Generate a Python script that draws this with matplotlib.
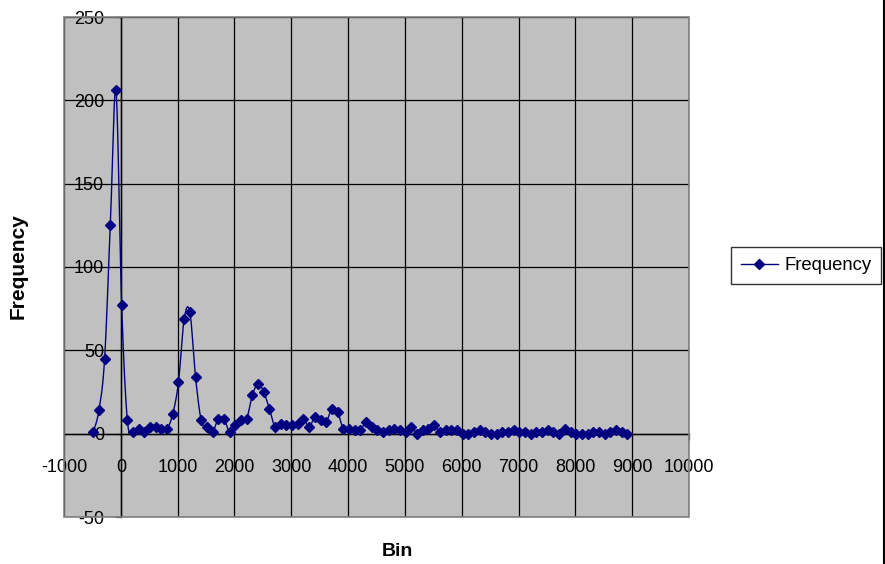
import numpy as np
import matplotlib.pyplot as plt
from matplotlib import font_manager
from matplotlib.patches import Rectangle
from matplotlib.lines import Line2D

names = {f.name for f in font_manager.fontManager.ttflist}
if 'Liberation Sans Narrow' in names:
    tick_font, tick_size = 'Liberation Sans Narrow', 15
else:
    tick_font, tick_size = 'Liberation Sans', 13

plt.rcParams['font.family'] = [tick_font, 'Liberation Sans', 'DejaVu Sans']
plt.rcParams['axes.unicode_minus'] = False

# bin positions
bins = [-485, -385, -285, -185, -85, 15, 115, 215, 315, 415,
        515, 615, 715, 815, 915, 1015, 1115, 1215, 1315, 1415,
        1515, 1615, 1715, 1815, 1915, 2015, 2115, 2215, 2315, 2415,
        2515, 2615, 2715, 2815, 2915, 3015, 3115, 3215, 3315, 3415,
        3515, 3615, 3715, 3815, 3915, 4015, 4115, 4215, 4315, 4415,
        4515, 4615, 4715, 4815, 4915, 5015, 5115, 5215, 5315, 5415,
        5515, 5615, 5715, 5815, 5915, 6015, 6115, 6215, 6315, 6415,
        6515, 6615, 6715, 6815, 6915, 7015, 7115, 7215, 7315, 7415,
        7515, 7615, 7715, 7815, 7915, 8015, 8115, 8215, 8315, 8415,
        8515, 8615, 8715, 8815, 8915]
freq = [1, 14, 45, 125, 206, 77, 8, 1, 3, 1,
        4, 4, 3, 3, 12, 31, 69, 73, 34, 8,
        4, 1, 9, 9, 1, 5, 8, 9, 23, 30,
        25, 15, 4, 6, 5, 5, 6, 9, 4, 10,
        8, 7, 15, 13, 3, 3, 2, 2, 7, 4,
        2, 1, 2, 3, 2, 1, 4, 0, 2, 3,
        5, 1, 2, 2, 2, 0, 0, 1, 2, 1,
        0, 0, 1, 1, 2, 1, 1, 0, 1, 1,
        2, 1, 0, 3, 1, 0, 0, 0, 1, 1,
        0, 1, 2, 1, 0]

x_ticks = list(range(-1000, 10001, 1000))
y_ticks = list(range(-50, 251, 50))


def smooth(xs, ys, n=12):
    # Catmull-Rom style smoothing like Excel's "smoothed line"
    p = np.column_stack([xs, ys]).astype(float)
    out = [p[0]]
    t = np.linspace(0, 1, n + 1)[1:]
    for i in range(len(p) - 1):
        p0 = p[i - 1] if i > 0 else p[i]
        p1, p2 = p[i], p[i + 1]
        p3 = p[i + 2] if i + 2 < len(p) else p[i + 1]
        c1 = p1 + (p2 - p0) / 6
        c2 = p2 - (p3 - p1) / 6
        for tt in t:
            out.append((1 - tt) ** 3 * p1 + 3 * (1 - tt) ** 2 * tt * c1
                       + 3 * (1 - tt) * tt ** 2 * c2 + tt ** 3 * p2)
    out = np.array(out)
    return out[:, 0], out[:, 1]


fig = plt.figure(figsize=(8.85, 5.64), dpi=100)
ax = fig.add_axes([64 / 885, 1 - 517 / 564, 625 / 885, 500 / 564])
ax.set_facecolor('#C0C0C0')

sx, sy = smooth(bins, freq)
ax.plot(sx, sy, color='#000080', lw=1, zorder=3)
ax.plot(bins, freq, ls='none', marker='D', ms=5, color='#000080', zorder=4)

ax.set_xlim(-1000, 10000)
ax.set_ylim(-50, 250)
ax.set_xticks(x_ticks)
ax.set_yticks(y_ticks)
ax.grid(True, color='black', lw=0.9)
ax.set_axisbelow(True)

for s in ['top', 'right']:
    ax.spines[s].set_visible(False)
ax.spines['left'].set_position(('data', 0))
ax.spines['bottom'].set_position(('data', 0))
ax.spines['left'].set_linewidth(1)
ax.spines['bottom'].set_linewidth(1)
ax.tick_params(axis='x', direction='out', length=4, pad=14, labelsize=tick_size)
ax.tick_params(axis='y', direction='out', length=4, pad=8, labelsize=tick_size)

ax.add_patch(Rectangle((0, 0), 1, 1, transform=ax.transAxes, fill=False,
                       edgecolor='#808080', lw=1.2, clip_on=False, zorder=5))

handle = Line2D([], [], color='#000080', lw=1, marker='D', ms=5)
leg = fig.legend([handle], ['Frequency'], loc='center', bbox_to_anchor=(806 / 885, 1 - 265.5 / 564),
                 frameon=True, fancybox=False, fontsize=tick_size + 0.3, handlelength=2.0,
                 borderpad=0.55, borderaxespad=0, handletextpad=0.35)
leg.get_frame().set_edgecolor('black')
leg.get_frame().set_linewidth(1)

fig.text(18 / 885, 1 - 266 / 564, 'Frequency', rotation=90, ha='center', va='center',
         fontsize=tick_size + 2, fontweight='bold')
fig.text(397 / 885, 1 - 552 / 564, 'Bin', ha='center', va='center',
         fontsize=tick_size + 1, fontweight='bold')
fig.add_artist(Line2D([0.9985, 0.9985], [0, 1], color='black', lw=1.5))

fig.savefig('out.png', dpi=100)
